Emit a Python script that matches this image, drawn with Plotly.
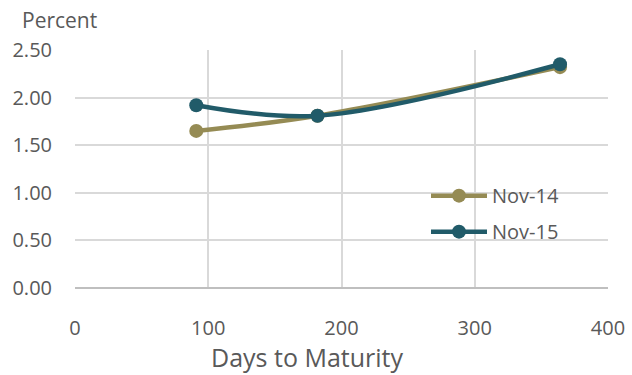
import plotly.graph_objects as go

days = [91, 182, 364]
nov14 = [1.65, 1.81, 2.32]
nov15 = [1.92, 1.81, 2.35]
series_names = ["Nov-14", "Nov-15"]
colors = ["#958B54", "#215B69"]

fig = go.Figure()
for name, vals, col in zip(series_names, [nov14, nov15], colors):
    fig.add_trace(go.Scatter(
        x=days, y=vals, name=name, mode="lines+markers", legendgroup=name,
        line=dict(color=col, width=4.5, shape="spline", smoothing=1),
        marker=dict(color=col, size=14),
    ))

font = "Open Sans, Liberation Sans, sans-serif"
W, H = 632, 375
L, R, T, B = 75, 24, 50, 87
pw, ph = W - L - R, H - T - B
fig.update_layout(
    width=W, height=H,
    margin=dict(l=L, r=R, t=T, b=B, autoexpand=False),
    paper_bgcolor="white", plot_bgcolor="white",
    font=dict(family=font, color="#595959", size=20),
    showlegend=True,
    legend=dict(x=(434 - 8 - L) / pw, y=0.47, xanchor="left", yanchor="top",
                bgcolor="rgba(0,0,0,0)", font=dict(size=20, color="#595959"),
                tracegroupgap=7, itemwidth=56),
    xaxis=dict(range=[0, 400], tickvals=[0, 100, 200, 300, 400],
               showgrid=True, gridcolor="#D9D9D9", gridwidth=1.5,
               zeroline=False, showline=False, automargin=False,
               ticklabelstandoff=26, tickfont=dict(size=20)),
    yaxis=dict(range=[0, 2.5], tickvals=[0, 0.5, 1, 1.5, 2, 2.5],
               tickformat=".2f", automargin=False,
               showgrid=True, gridcolor="#D9D9D9", gridwidth=1.5,
               zeroline=True, zerolinecolor="#BFBFBF", zerolinewidth=1.5,
               showline=False, ticklabelstandoff=22, tickfont=dict(size=20)),
    annotations=[
        dict(text="Percent", x=(20 - L) / pw, y=(H - B - 20) / ph,
             xref="paper", yref="paper", xanchor="left", yanchor="middle",
             showarrow=False, font=dict(size=21, color="#595959")),
        dict(text="Days to Maturity", x=(307 - L) / pw, y=(H - B - 357) / ph,
             xref="paper", yref="paper", xanchor="center", yanchor="middle",
             showarrow=False, font=dict(size=25, color="#595959")),
    ],
)
fig.write_html("out.html", config={"displayModeBar": False},
               post_script="document.body.style.margin='0';document.body.style.padding='0';")
